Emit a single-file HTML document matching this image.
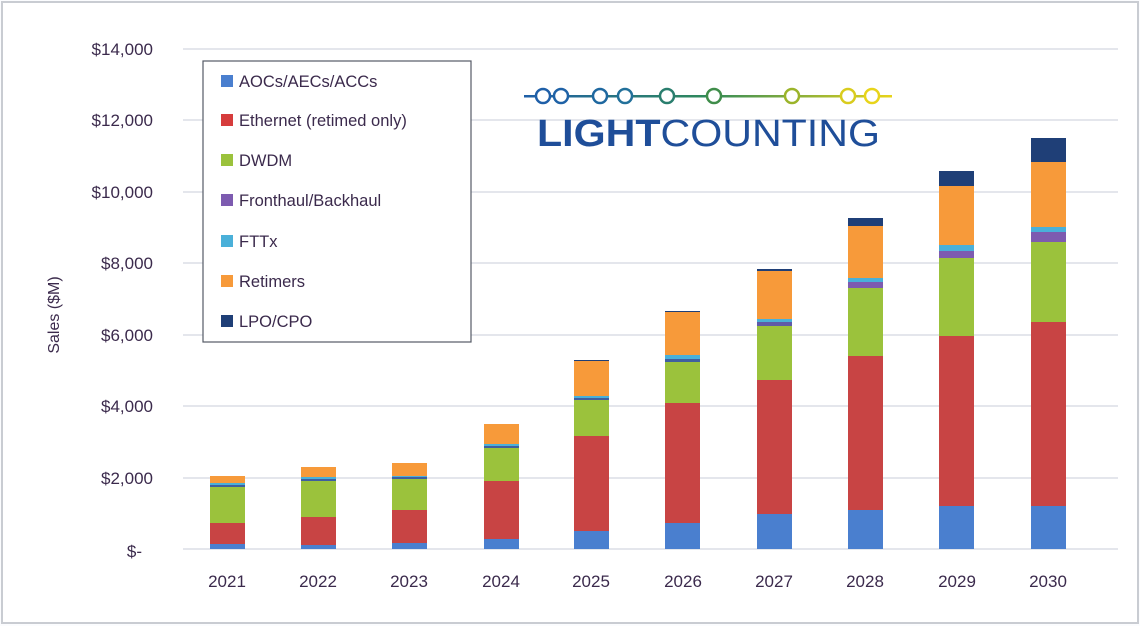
<!DOCTYPE html>
<html><head><meta charset="utf-8"><style>
html,body{margin:0;padding:0;background:#fff;}
svg{display:block;font-family:"Liberation Sans",sans-serif;}
</style></head><body>
<svg width="1140" height="626" viewBox="0 0 1140 626" xmlns="http://www.w3.org/2000/svg">
<rect x="0" y="0" width="1140" height="626" fill="#fbfcfe"/>
<rect x="2" y="2" width="1136" height="621" fill="#fff" stroke="#c9ccd2" stroke-width="2"/>
<g stroke="#d3d8e0" stroke-width="1.2">
<line x1="183" y1="49" x2="1118" y2="49"/><line x1="183" y1="120" x2="1118" y2="120"/>
<line x1="183" y1="192" x2="1118" y2="192"/><line x1="183" y1="263" x2="1118" y2="263"/>
<line x1="183" y1="335" x2="1118" y2="335"/><line x1="183" y1="406" x2="1118" y2="406"/>
<line x1="183" y1="478" x2="1118" y2="478"/><line x1="183" y1="549" x2="1118" y2="549"/>
</g>
<g fill="#3b2a4c" font-size="17" text-anchor="end">
<text x="153" y="55">$14,000</text><text x="153" y="126">$12,000</text>
<text x="153" y="198">$10,000</text><text x="153" y="269">$8,000</text>
<text x="153" y="341">$6,000</text><text x="153" y="412">$4,000</text>
<text x="153" y="484">$2,000</text><text x="142" y="557">$-</text>
</g>
<text x="0" y="0" transform="translate(59,315) rotate(-90)" text-anchor="middle" font-size="16" fill="#3b2a4c">Sales ($M)</text>
<g fill="#3b2a4c" font-size="17" text-anchor="middle">
<text x="227" y="587">2021</text><text x="318" y="587">2022</text><text x="409" y="587">2023</text>
<text x="501" y="587">2024</text><text x="591" y="587">2025</text><text x="683" y="587">2026</text>
<text x="774" y="587">2027</text><text x="865" y="587">2028</text><text x="957" y="587">2029</text>
<text x="1048" y="587">2030</text>
</g>
<g>
<!-- 2021 -->
<rect x="210" y="544" width="35" height="5" fill="#4a7fcf"/><rect x="210" y="523" width="35" height="21" fill="#c84444"/><rect x="210" y="487" width="35" height="36" fill="#9bc23c"/><rect x="210" y="485" width="35" height="2" fill="#3f5f9f"/><rect x="210" y="483" width="35" height="2" fill="#4ab0d9"/><rect x="210" y="476" width="35" height="7" fill="#f79a3a"/>
<!-- 2022 -->
<rect x="301" y="545" width="35" height="4" fill="#4a7fcf"/><rect x="301" y="517" width="35" height="28" fill="#c84444"/><rect x="301" y="481" width="35" height="36" fill="#9bc23c"/><rect x="301" y="479" width="35" height="2" fill="#3f5f9f"/><rect x="301" y="477" width="35" height="2" fill="#4ab0d9"/><rect x="301" y="467" width="35" height="10" fill="#f79a3a"/>
<!-- 2023 -->
<rect x="392" y="543" width="35" height="6" fill="#4a7fcf"/><rect x="392" y="510" width="35" height="33" fill="#c84444"/><rect x="392" y="479" width="35" height="31" fill="#9bc23c"/><rect x="392" y="477" width="35" height="2" fill="#3f5f9f"/><rect x="392" y="476" width="35" height="1" fill="#4ab0d9"/><rect x="392" y="463" width="35" height="13" fill="#f79a3a"/>
<!-- 2024 -->
<rect x="484" y="539" width="35" height="10" fill="#4a7fcf"/><rect x="484" y="481" width="35" height="58" fill="#c84444"/><rect x="484" y="448" width="35" height="33" fill="#9bc23c"/><rect x="484" y="446" width="35" height="2" fill="#3f5f9f"/><rect x="484" y="444" width="35" height="2" fill="#4ab0d9"/><rect x="484" y="424" width="35" height="20" fill="#f79a3a"/>
<!-- 2025 -->
<rect x="574" y="531" width="35" height="18" fill="#4a7fcf"/><rect x="574" y="436" width="35" height="95" fill="#c84444"/><rect x="574" y="400" width="35" height="36" fill="#9bc23c"/><rect x="574" y="398" width="35" height="2" fill="#3f5f9f"/><rect x="574" y="396" width="35" height="2" fill="#4ab0d9"/><rect x="574" y="361" width="35" height="35" fill="#f79a3a"/><rect x="574" y="360" width="35" height="1" fill="#1f3f77"/>
<!-- 2026 -->
<rect x="665" y="523" width="35" height="26" fill="#4a7fcf"/><rect x="665" y="403" width="35" height="120" fill="#c84444"/><rect x="665" y="362" width="35" height="41" fill="#9bc23c"/><rect x="665" y="359" width="35" height="3" fill="#3f5f9f"/><rect x="665" y="355" width="35" height="4" fill="#4ab0d9"/><rect x="665" y="312" width="35" height="43" fill="#f79a3a"/><rect x="665" y="311" width="35" height="1" fill="#1f3f77"/>
<!-- 2027 -->
<rect x="757" y="514" width="35" height="35" fill="#4a7fcf"/><rect x="757" y="380" width="35" height="134" fill="#c84444"/><rect x="757" y="326" width="35" height="54" fill="#9bc23c"/><rect x="757" y="322" width="35" height="4" fill="#5f5aa8"/><rect x="757" y="319" width="35" height="3" fill="#4ab0d9"/><rect x="757" y="271" width="35" height="48" fill="#f79a3a"/><rect x="757" y="269" width="35" height="2" fill="#1f3f77"/>
<!-- 2028 -->
<rect x="848" y="510" width="35" height="39" fill="#4a7fcf"/><rect x="848" y="356" width="35" height="154" fill="#c84444"/><rect x="848" y="288" width="35" height="68" fill="#9bc23c"/><rect x="848" y="282" width="35" height="6" fill="#7d5bb0"/><rect x="848" y="278" width="35" height="4" fill="#4ab0d9"/><rect x="848" y="226" width="35" height="52" fill="#f79a3a"/><rect x="848" y="218" width="35" height="8" fill="#1f3f77"/>
<!-- 2029 -->
<rect x="939" y="506" width="35" height="43" fill="#4a7fcf"/><rect x="939" y="336" width="35" height="170" fill="#c84444"/><rect x="939" y="258" width="35" height="78" fill="#9bc23c"/><rect x="939" y="251" width="35" height="7" fill="#7d5bb0"/><rect x="939" y="245" width="35" height="6" fill="#4ab0d9"/><rect x="939" y="186" width="35" height="59" fill="#f79a3a"/><rect x="939" y="171" width="35" height="15" fill="#1f3f77"/>
<!-- 2030 -->
<rect x="1031" y="506" width="35" height="43" fill="#4a7fcf"/><rect x="1031" y="322" width="35" height="184" fill="#c84444"/><rect x="1031" y="242" width="35" height="80" fill="#9bc23c"/><rect x="1031" y="232" width="35" height="10" fill="#7d5bb0"/><rect x="1031" y="227" width="35" height="5" fill="#4ab0d9"/><rect x="1031" y="162" width="35" height="65" fill="#f79a3a"/><rect x="1031" y="138" width="35" height="24" fill="#1f3f77"/>
</g>
<rect x="203" y="61" width="268" height="281" fill="#fff" stroke="#555a66" stroke-width="1.2"/>
<g font-size="16.5" fill="#3b2a4c">
<rect x="221" y="75" width="12" height="12" fill="#4a7fcf"/><text x="239" y="87">AOCs/AECs/ACCs</text>
<rect x="221" y="114" width="12" height="12" fill="#d63c3c"/><text x="239" y="126">Ethernet (retimed only)</text>
<rect x="221" y="154" width="12" height="12" fill="#9bc23c"/><text x="239" y="166">DWDM</text>
<rect x="221" y="194" width="12" height="12" fill="#7d5bb0"/><text x="239" y="206">Fronthaul/Backhaul</text>
<rect x="221" y="235" width="12" height="12" fill="#4ab0d9"/><text x="239" y="247">FTTx</text>
<rect x="221" y="275" width="12" height="12" fill="#f79a3a"/><text x="239" y="287">Retimers</text>
<rect x="221" y="315" width="12" height="12" fill="#1f3f77"/><text x="239" y="327">LPO/CPO</text>
</g>
<defs><linearGradient id="lg" gradientUnits="userSpaceOnUse" x1="524" y1="0" x2="892" y2="0"><stop offset="0" stop-color="#1f5fa8"/><stop offset="0.5" stop-color="#2f8a5a"/><stop offset="1" stop-color="#e8d41a"/></linearGradient></defs>
<rect x="524" y="95" width="368" height="2.5" fill="url(#lg)"/>
<g fill="#fff" stroke-width="2.5">
<circle cx="543" cy="96" r="7" stroke="#1f5fa8"/><circle cx="561" cy="96" r="7" stroke="#1f62a6"/>
<circle cx="600" cy="96" r="7" stroke="#1f68a0"/><circle cx="625" cy="96" r="7" stroke="#22709a"/>
<circle cx="667" cy="96" r="7" stroke="#2a7e6e"/><circle cx="714" cy="96" r="7" stroke="#3f8d4a"/>
<circle cx="792" cy="96" r="7" stroke="#9bb42a"/><circle cx="848" cy="96" r="7" stroke="#d9cc1e"/>
<circle cx="872" cy="96" r="7" stroke="#e8d41a"/>
</g>
<text x="537" y="146" font-size="38" fill="#1f4e99" textLength="343" lengthAdjust="spacingAndGlyphs"><tspan font-weight="bold">LIGHT</tspan>COUNTING</text>
</svg>
</body></html>
